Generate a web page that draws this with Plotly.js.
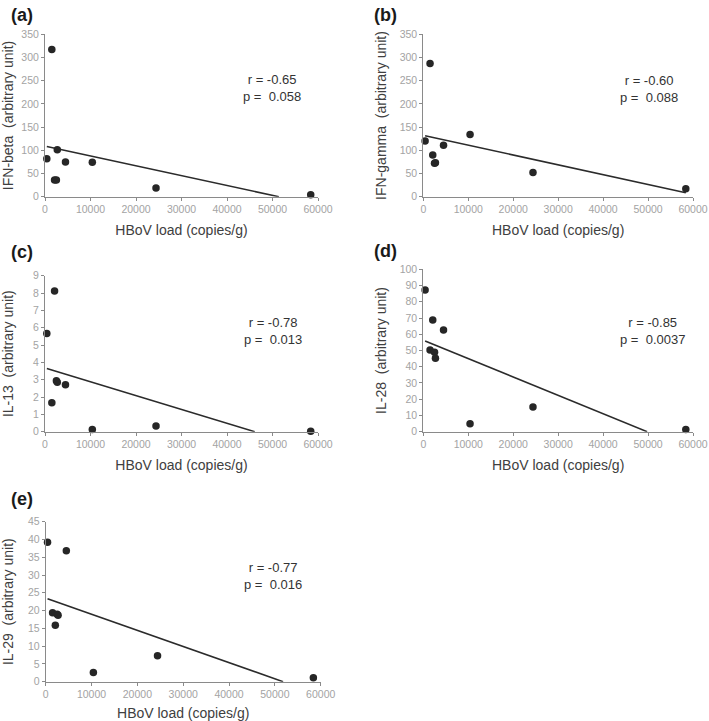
<!DOCTYPE html>
<html>
<head>
<meta charset="utf-8">
<script src="https://cdn.plot.ly/plotly-3.0.1.min.js"></script>
<style>html,body{margin:0;padding:0;background:#fff}#chart{width:709px;height:721px}</style>
</head>
<body>
<div id="chart"></div>
<script>
// ---- data ----
const xLoad = [400, 1500, 2100, 2500, 2700, 4500, 10400, 24400, 58400];
const ifnBeta = [82, 317, 36, 36, 101, 75, 74, 19, 4];
const ifnGamma = [120, 287, 90, 72, 73, 111, 134, 52, 17];
const il13 = [5.67, 1.67, 8.12, 2.94, 2.85, 2.71, 0.13, 0.33, 0.02];
const il28 = [87.3, 50.3, 68.8, 48.9, 45.2, 62.6, 4.9, 15.2, 1.4];
const il29 = [39.2, 19.4, 15.9, 19.0, 18.7, 36.8, 2.6, 7.3, 1.1];

// trend line end points
const trendX_a = [400, 51400], trendY_a = [108, 0];
const trendX_b = [400, 58400], trendY_b = [131.5, 8.6];
const trendX_c = [400, 46100], trendY_c = [3.65, 0];
const trendX_d = [400, 49800], trendY_d = [55.9, 0];
const trendX_e = [400, 51800], trendY_e = [23.3, 0];

const panelLabels = ['(a)', '(b)', '(c)', '(d)', '(e)'];
const yTitles = ['IFN-beta  (arbitrary unit)', 'IFN-gamma  (arbitrary unit)', 'IL-13  (arbitrary unit)', 'IL-28  (arbitrary unit)', 'IL-29  (arbitrary unit)'];
const xTitle = 'HBoV load (copies/g)';
const rText = ['r = -0.65', 'r = -0.60', 'r = -0.78', 'r = -0.85', 'r = -0.77'];
const pText = ['p =\u00a0 0.058', 'p =\u00a0 0.088', 'p =\u00a0 0.013', 'p =\u00a0 0.0037', 'p =\u00a0 0.016'];
const yMax = [350, 350, 9, 100, 45];
const yDtick = [50, 50, 1, 10, 5];

const series = [ifnBeta, ifnGamma, il13, il28, il29];
const trendsX = [trendX_a, trendX_b, trendX_c, trendX_d, trendX_e];
const trendsY = [trendY_a, trendY_b, trendY_c, trendY_d, trendY_e];

// ---- layout geometry (pixels) ----
const W = 709, H = 721;
const boxes = [
  {x0: 45, x1: 318, y0: 34.3, y1: 196.7},
  {x0: 423.3, x1: 693, y0: 34.3, y1: 196.7},
  {x0: 45, x1: 318, y0: 275.7, y1: 431.7},
  {x0: 423.3, x1: 693, y0: 269.3, y1: 431.7},
  {x0: 45.7, x1: 320.7, y0: 521.7, y1: 681.7}
];
const labelPos = [[22, 15], [385, 15], [22, 251.5], [385, 250.5], [22, 498.5]];
const statPos = [[272, 88], [649, 89], [273, 330.5], [652, 331], [273, 576]];
const yStandoff = [10, 9, 21, 9, 15];

const fontFam = 'Arial, "Liberation Sans", sans-serif';
const px2x = p => p / W, px2y = p => 1 - p / H;

const data = [];
const layout = {
  width: W, height: H,
  margin: {l: 0, r: 0, t: 0, b: 0},
  paper_bgcolor: '#fff', plot_bgcolor: '#fff',
  showlegend: false,
  font: {family: fontFam, color: '#404040'},
  annotations: []
};

for (let i = 0; i < 5; i++) {
  const s = i === 0 ? '' : String(i + 1);
  const b = boxes[i];
  data.push({
    type: 'scatter', mode: 'lines', x: trendsX[i], y: trendsY[i],
    xaxis: 'x' + s, yaxis: 'y' + s,
    line: {color: '#2b2b2b', width: 1.6}, hoverinfo: 'skip', cliponaxis: false
  });
  data.push({
    type: 'scatter', mode: 'markers', x: xLoad, y: series[i],
    xaxis: 'x' + s, yaxis: 'y' + s,
    marker: {color: '#262626', size: 7.5}, cliponaxis: false
  });
  const common = {
    showgrid: false, zeroline: false, showline: true,
    linecolor: '#8a8a8a', linewidth: 1,
    ticks: 'outside', ticklen: 3, tickwidth: 1, tickcolor: '#8a8a8a',
    tickfont: {family: fontFam, size: 10.5, color: '#a3a3a3'},
    tickformat: 'd',
    fixedrange: true
  };
  layout['xaxis' + s] = Object.assign({}, common, {
    domain: [px2x(b.x0), px2x(b.x1)],
    anchor: 'y' + s,
    range: [0, 60000], tick0: 0, dtick: 10000,
    title: {text: xTitle, font: {family: fontFam, size: 14, color: '#404040'}, standoff: 10}
  });
  layout['yaxis' + s] = Object.assign({}, common, {
    domain: [px2y(b.y1), px2y(b.y0)],
    anchor: 'x' + s,
    range: [0, yMax[i]], tick0: 0, dtick: yDtick[i],
    title: {text: yTitles[i], font: {family: fontFam, size: 14, color: '#404040'}, standoff: yStandoff[i]}
  });
  layout.annotations.push({
    xref: 'paper', yref: 'paper', x: px2x(labelPos[i][0]), y: px2y(labelPos[i][1]),
    xanchor: 'center', yanchor: 'middle', showarrow: false,
    text: '<b>' + panelLabels[i] + '</b>',
    font: {family: fontFam, size: 18, color: '#1a1a1a'}
  });
  layout.annotations.push({
    xref: 'paper', yref: 'paper', x: px2x(statPos[i][0]), y: px2y(statPos[i][1]),
    xanchor: 'center', yanchor: 'middle', align: 'center', showarrow: false,
    text: rText[i] + '<br>' + pText[i],
    font: {family: fontFam, size: 13, color: '#333333'}
  });
}

Plotly.newPlot('chart', data, layout, {displayModeBar: false, staticPlot: true});
</script>
</body>
</html>
